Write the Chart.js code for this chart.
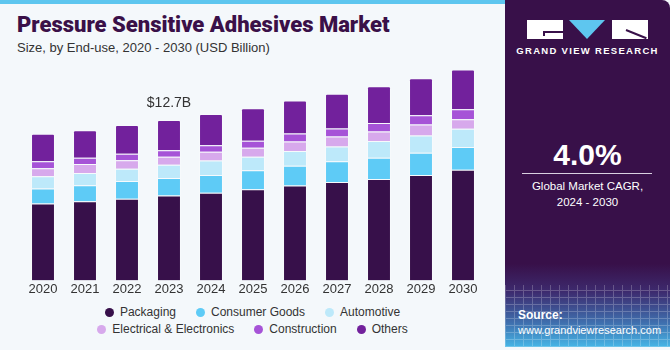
<!DOCTYPE html>
<html>
<head>
    <meta charset="UTF-8">
    <title>Pressure Sensitive Adhesives Market</title>
    <script src="https://cdn.jsdelivr.net/npm/chart.js"></script>
    <style>
        body { margin: 0; background: #f4f8fb; font-family: "Liberation Sans", Arial, sans-serif; }
        .page { position: relative; width: 670px; height: 350px; overflow: hidden; background: #f4f8fb; }
        .stripe { position: absolute; left: 0; top: 0; width: 505px; height: 4px; background: #5ec6ef; }
        .title { position: absolute; left: 17px; top: 12px; font-family: Roboto, "Liberation Sans", sans-serif; font-weight: 900; font-size: 22px; color: #3a1048; white-space: nowrap; }
        .subtitle { position: absolute; left: 17px; top: 40px; font-size: 13px; color: #333; white-space: nowrap; }
        #chart { position: absolute; left: 0; top: 50px; }
        .legend { position: absolute; left: 0; width: 505px; display: flex; justify-content: center; font-size: 12px; color: #333; }
        .legend span.item { display: flex; align-items: center; margin: 0 10px; white-space: nowrap; }
        .legend i { display: inline-block; width: 9px; height: 9px; border-radius: 50%; margin-right: 6px; }
        .panel { position: absolute; left: 505px; top: 0; width: 165px; height: 347px; border-top-right-radius: 8px; overflow: hidden;
            background: linear-gradient(180deg, #381049 0%, #381049 76%, #3d2a6e 84%, #3f6fae 93%, #46b6e6 100%); }
        .grid { position: absolute; left: 0; top: 285px; width: 165px; height: 62px; opacity: 0.22;
            background-image: repeating-linear-gradient(90deg, #fff 0 1px, transparent 1px 9px), repeating-linear-gradient(0deg, #fff 0 1px, transparent 1px 7px); }
        .logo { position: absolute; top: 20px; height: 19px; background: #fff; }
        .tri { position: absolute; left: 64px; top: 20px; width: 0; height: 0; border-left: 18px solid transparent; border-right: 18px solid transparent; border-top: 19px solid #5ec6ef; }
        .brand { position: absolute; left: 0; width: 165px; top: 45px; text-align: center; color: #fff; font-weight: bold; font-size: 9.5px; letter-spacing: 1.3px; }
        .cagr { position: absolute; left: 0; width: 165px; top: 138px; text-align: center; color: #fff; font-weight: bold; font-size: 30px; }
        .rule { position: absolute; left: 17px; width: 130px; top: 173px; height: 1px; background: #d8d0e0; }
        .cagr-txt { position: absolute; left: 0; width: 165px; top: 178px; text-align: center; color: #fff; font-size: 11.5px; line-height: 16px; }
        .source { position: absolute; left: 13px; top: 308px; color: #fff; font-size: 11px; line-height: 15px; }
        .source b { font-size: 12px; }
    </style>
</head>
<body>
<div class="page">
    <div class="stripe"></div>
    <div class="title">Pressure Sensitive Adhesives Market</div>
    <div class="subtitle">Size, by End-use, 2020 - 2030 (USD Billion)</div>
    <canvas id="chart" width="505" height="248"></canvas>
    <div class="legend" id="legendRow1" style="top:305px"></div>
    <div class="legend" id="legendRow2" style="top:322px"></div>

    <div class="panel">
        <div class="grid"></div>
        <div class="logo" style="left:22px;width:36px"></div>
        <div style="position:absolute;left:38px;top:31px;width:20px;height:2px;background:#381049"></div>
        <div style="position:absolute;left:38px;top:31px;width:2px;height:5px;background:#381049"></div>
        <div class="tri"></div>
        <div class="logo" style="left:107px;width:36px"></div>
        <div style="position:absolute;left:121px;top:29px;width:22px;height:2px;background:#381049;transform:rotate(22deg);transform-origin:left center"></div>
        <div class="brand">GRAND VIEW RESEARCH</div>
        <div class="cagr">4.0%</div>
        <div class="rule"></div>
        <div class="cagr-txt">Global Market CAGR,<br>2024 - 2030</div>
        <div class="source"><b>Source:</b><br>www.grandviewresearch.com</div>
    </div>
</div>

<script>
    // Data (USD Billion)
    const years = ['2020', '2021', '2022', '2023', '2024', '2025', '2026', '2027', '2028', '2029', '2030'];
    const packaging = [6.08, 6.26, 6.46, 6.72, 6.93, 7.22, 7.52, 7.79, 8.03, 8.35, 8.75];
    const consumerGoods = [1.20, 1.28, 1.41, 1.39, 1.41, 1.49, 1.55, 1.65, 1.68, 1.76, 1.81];
    const automotive = [0.96, 0.96, 0.96, 1.04, 1.15, 1.07, 1.17, 1.15, 1.33, 1.36, 1.44];
    const electrical = [0.64, 0.72, 0.69, 0.64, 0.69, 0.72, 0.75, 0.80, 0.75, 0.88, 0.75];
    const construction = [0.56, 0.48, 0.50, 0.51, 0.51, 0.56, 0.64, 0.64, 0.67, 0.72, 0.80];
    const others = [2.16, 2.19, 2.29, 2.40, 2.48, 2.56, 2.61, 2.75, 2.91, 2.93, 3.15];
    const segmentNames = ['Packaging', 'Consumer Goods', 'Automotive', 'Electrical & Electronics', 'Construction', 'Others'];
    const segmentColors = ['#37104a', '#5ecbf6', '#bde9fa', '#d7a9ec', '#a653d7', '#72219c'];
    const calloutIndex = 3;
    const calloutText = '$12.7B';

    const series = [packaging, consumerGoods, automotive, electrical, construction, others];

    const datasets = series.map((values, i) => ({
        label: segmentNames[i],
        data: values,
        backgroundColor: segmentColors[i],
        borderColor: 'rgba(255,255,255,0.3)',
        borderWidth: 1,
        borderRadius: i === series.length - 1 ? { topLeft: 2, topRight: 2 } : 0,
        barPercentage: 0.57,
        categoryPercentage: 1.0
    }));

    // value label above the 2023 bar
    const calloutPlugin = {
        id: 'callout',
        afterDatasetsDraw(chart) {
            const total = series.reduce((s, arr) => s + arr[calloutIndex], 0);
            const x = chart.scales.x.getPixelForValue(calloutIndex);
            const y = chart.scales.y.getPixelForValue(total);
            const ctx = chart.ctx;
            ctx.save();
            ctx.font = '14px "Liberation Sans", Arial, sans-serif';
            ctx.fillStyle = '#333';
            ctx.textAlign = 'center';
            ctx.textBaseline = 'bottom';
            ctx.fillText(calloutText, x, y - 10);
            ctx.restore();
        }
    };

    new Chart(document.getElementById('chart'), {
        type: 'bar',
        data: { labels: years, datasets: datasets },
        options: {
            responsive: false,
            animation: false,
            layout: { padding: { left: 22, right: 21, top: 3, bottom: 0 } },
            plugins: { legend: { display: false }, tooltip: { enabled: false } },
            scales: {
                x: {
                    stacked: true,
                    grid: { display: false, drawTicks: false },
                    border: { display: false },
                    ticks: { color: '#333', font: { size: 13, family: '"Liberation Sans", Arial, sans-serif' }, padding: 1 }
                },
                y: {
                    stacked: true,
                    display: false,
                    min: 0,
                    max: 18
                }
            }
        },
        plugins: [calloutPlugin]
    });

    // legend in two rows of three, like the original
    [[0, 1, 2], [3, 4, 5]].forEach((row, r) => {
        const el = document.getElementById('legendRow' + (r + 1));
        row.forEach(i => {
            const item = document.createElement('span');
            item.className = 'item';
            item.innerHTML = '<i style="background:' + segmentColors[i] + '"></i>';
            item.appendChild(document.createTextNode(segmentNames[i]));
            el.appendChild(item);
        });
    });
</script>
</body>
</html>
